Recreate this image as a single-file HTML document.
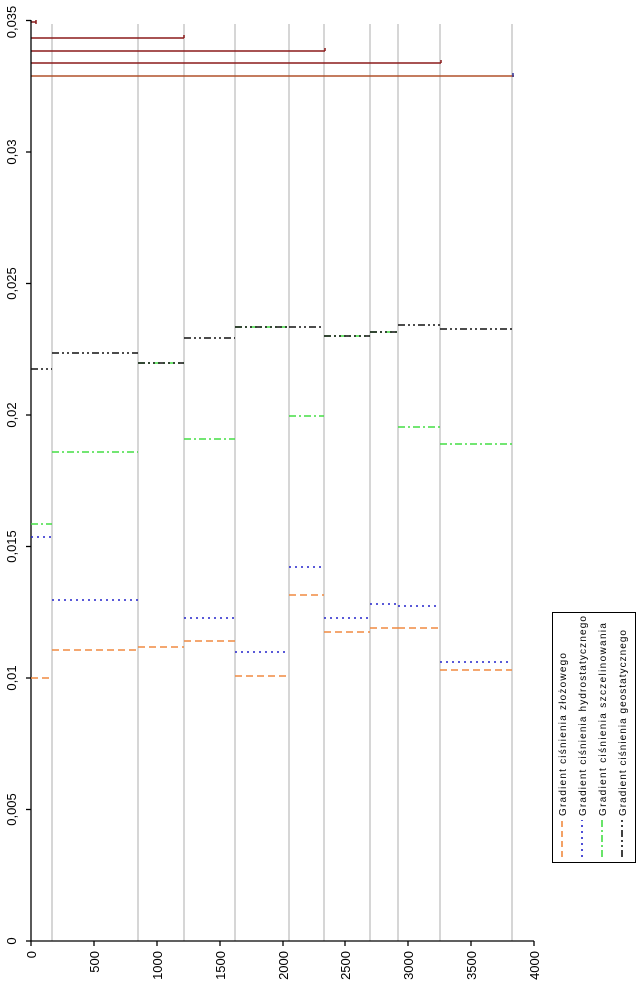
<!DOCTYPE html>
<html><head><meta charset="utf-8"><style>
html,body{margin:0;padding:0;background:#fff}
svg{display:block}
text{font-family:"Liberation Sans",sans-serif}
</style></head><body>
<svg width="639" height="996" viewBox="0 0 639 996" xmlns="http://www.w3.org/2000/svg">
<g stroke="#c8c8c8" stroke-width="1.5">
<line x1="52" y1="24" x2="52" y2="941"/>
<line x1="138" y1="24" x2="138" y2="941"/>
<line x1="184" y1="24" x2="184" y2="941"/>
<line x1="235" y1="24" x2="235" y2="941"/>
<line x1="289" y1="24" x2="289" y2="941"/>
<line x1="324" y1="24" x2="324" y2="941"/>
<line x1="370" y1="24" x2="370" y2="941"/>
<line x1="398" y1="24" x2="398" y2="941"/>
<line x1="440" y1="24" x2="440" y2="941"/>
<line x1="512" y1="24" x2="512" y2="941"/>
</g>
<g stroke="#8b1a1a" stroke-width="1.5">
<line x1="31" y1="38" x2="184" y2="38"/><line x1="184" y1="35" x2="184" y2="38"/>
<line x1="31" y1="51" x2="325" y2="51"/><line x1="325" y1="48" x2="325" y2="51"/>
<line x1="31" y1="63" x2="441" y2="63"/><line x1="441" y1="60" x2="441" y2="63"/>
<line x1="31" y1="22" x2="36" y2="22"/><line x1="36" y1="20" x2="36" y2="24"/>
</g>
<line x1="31" y1="76" x2="514" y2="76" stroke="#b0502a" stroke-width="1.5"/>
<line x1="513" y1="73" x2="513" y2="77" stroke="#333399" stroke-width="1.5"/>
<g stroke="#000" stroke-width="1.3">
<line x1="31" y1="20" x2="31" y2="941"/>
<line x1="31" y1="941" x2="534" y2="941"/>
<line x1="26" y1="941" x2="31" y2="941"/><line x1="26" y1="809.5" x2="31" y2="809.5"/><line x1="26" y1="678" x2="31" y2="678"/><line x1="26" y1="546.5" x2="31" y2="546.5"/><line x1="26" y1="415" x2="31" y2="415"/><line x1="26" y1="283.5" x2="31" y2="283.5"/><line x1="26" y1="152" x2="31" y2="152"/><line x1="26" y1="20.5" x2="31" y2="20.5"/>
<line x1="31" y1="941" x2="31" y2="946"/><line x1="94" y1="941" x2="94" y2="946"/><line x1="157" y1="941" x2="157" y2="946"/><line x1="220" y1="941" x2="220" y2="946"/><line x1="283" y1="941" x2="283" y2="946"/><line x1="345" y1="941" x2="345" y2="946"/><line x1="408" y1="941" x2="408" y2="946"/><line x1="471" y1="941" x2="471" y2="946"/><line x1="534" y1="941" x2="534" y2="946"/>
</g>
<g font-size="13" fill="#000" text-anchor="middle">
<text transform="translate(16,941) rotate(-90)">0</text>
<text transform="translate(16,809.5) rotate(-90)">0,005</text>
<text transform="translate(16,678) rotate(-90)">0,01</text>
<text transform="translate(16,546.5) rotate(-90)">0,015</text>
<text transform="translate(16,415) rotate(-90)">0,02</text>
<text transform="translate(16,283.5) rotate(-90)">0,025</text>
<text transform="translate(16,152) rotate(-90)">0,03</text>
<text transform="translate(16,22) rotate(-90)">0,035</text>
</g>
<g font-size="13" fill="#000" text-anchor="end">
<text transform="translate(36,951) rotate(-90)">0</text>
<text transform="translate(99,951) rotate(-90)">500</text>
<text transform="translate(162,951) rotate(-90)">1000</text>
<text transform="translate(225,951) rotate(-90)">1500</text>
<text transform="translate(288,951) rotate(-90)">2000</text>
<text transform="translate(350,951) rotate(-90)">2500</text>
<text transform="translate(413,951) rotate(-90)">3000</text>
<text transform="translate(476,951) rotate(-90)">3500</text>
<text transform="translate(539,951) rotate(-90)">4000</text>
</g>
<g stroke="#f08a40" stroke-width="1.6" stroke-dasharray="7,4">
<line x1="31" y1="678" x2="52" y2="678"/><line x1="52" y1="650" x2="138" y2="650"/><line x1="138" y1="647" x2="184" y2="647"/><line x1="184" y1="641" x2="235" y2="641"/><line x1="235" y1="676" x2="289" y2="676"/><line x1="289" y1="595" x2="324" y2="595"/><line x1="324" y1="632" x2="370" y2="632"/><line x1="370" y1="628" x2="398" y2="628"/><line x1="398" y1="628" x2="440" y2="628"/><line x1="440" y1="670" x2="512" y2="670"/>
</g>
<g stroke="#2222cc" stroke-width="1.6" stroke-dasharray="2,4">
<line x1="31" y1="537" x2="52" y2="537"/><line x1="52" y1="600" x2="138" y2="600"/><line x1="184" y1="618" x2="235" y2="618"/><line x1="235" y1="652" x2="289" y2="652"/><line x1="289" y1="567" x2="324" y2="567"/><line x1="324" y1="618" x2="370" y2="618"/><line x1="370" y1="604" x2="398" y2="604"/><line x1="398" y1="606" x2="440" y2="606"/><line x1="440" y1="662" x2="512" y2="662"/>
</g>
<g stroke="#44dd44" stroke-width="1.6" stroke-dasharray="7,3,2,3">
<line x1="31" y1="524" x2="52" y2="524"/><line x1="52" y1="452" x2="138" y2="452"/><line x1="138" y1="363" x2="184" y2="363"/><line x1="184" y1="439" x2="235" y2="439"/><line x1="235" y1="327" x2="289" y2="327"/><line x1="289" y1="416" x2="324" y2="416"/><line x1="324" y1="336" x2="370" y2="336"/><line x1="370" y1="332" x2="398" y2="332"/><line x1="398" y1="427" x2="440" y2="427"/><line x1="440" y1="444" x2="512" y2="444"/>
</g>
<g stroke="#111" stroke-width="1.6" stroke-dasharray="7,3,2,3,2,3">
<line x1="31" y1="369" x2="52" y2="369"/><line x1="52" y1="353" x2="138" y2="353"/><line x1="138" y1="363" x2="184" y2="363"/><line x1="184" y1="338" x2="235" y2="338"/><line x1="235" y1="327" x2="289" y2="327"/><line x1="289" y1="327" x2="324" y2="327"/><line x1="324" y1="336" x2="370" y2="336"/><line x1="370" y1="332" x2="398" y2="332"/><line x1="398" y1="325" x2="440" y2="325"/><line x1="440" y1="329" x2="512" y2="329"/>
</g>
<rect x="552.5" y="612.5" width="83" height="250" fill="#fff" stroke="#000" stroke-width="1"/>
<g stroke-width="1.6">
<line x1="562" y1="857" x2="562" y2="820" stroke="#f08a40" stroke-dasharray="6,4"/>
<line x1="582" y1="857" x2="582" y2="820" stroke="#2222cc" stroke-dasharray="2,4"/>
<line x1="602" y1="857" x2="602" y2="820" stroke="#44dd44" stroke-dasharray="7,3,2,3"/>
<line x1="622" y1="857" x2="622" y2="820" stroke="#111" stroke-dasharray="7,3,2,3,2,3"/>
</g>
<g font-size="10" fill="#000">
<text transform="translate(566,816) rotate(-90)" textLength="163" lengthAdjust="spacing">Gradient ciśnienia złożowego</text>
<text transform="translate(586,816) rotate(-90)" textLength="200" lengthAdjust="spacing">Gradient ciśnienia hydrostatycznego</text>
<text transform="translate(606,816) rotate(-90)" textLength="193" lengthAdjust="spacing">Gradient ciśnienia szczelinowania</text>
<text transform="translate(626,816) rotate(-90)" textLength="186" lengthAdjust="spacing">Gradient ciśnienia geostatycznego</text>
</g>
</svg>
</body></html>
